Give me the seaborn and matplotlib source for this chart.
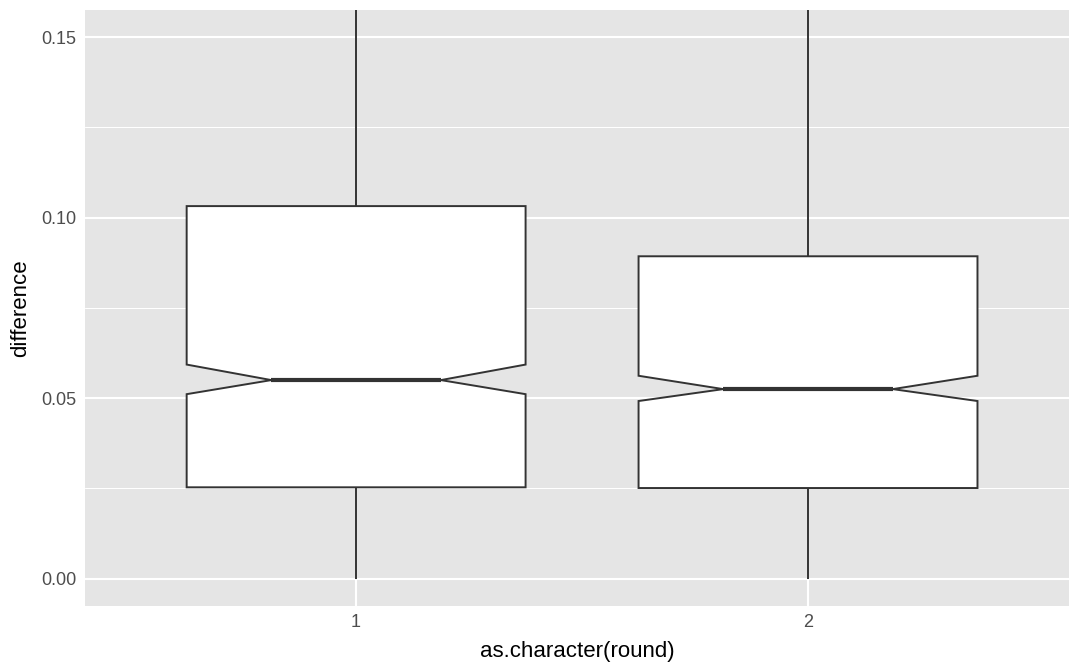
import matplotlib
matplotlib.use("Agg")
import matplotlib.pyplot as plt
from matplotlib.ticker import FixedLocator
import seaborn as sns
import pandas as pd

# Summary statistics of the difference per round
rounds = ["1", "2"]
medians = [0.0550, 0.0525]
q1 = [0.0253, 0.0251]
q3 = [0.1032, 0.0893]
notch_lo = [0.0511, 0.0492]
notch_hi = [0.0593, 0.0562]
whisker_lo = [0.0, 0.0]
whisker_hi = [0.20, 0.20]

y_ticks = [0.00, 0.05, 0.10, 0.15]
y_tick_labels = ["0.00", "0.05", "0.10", "0.15"]
y_minor = [0.025, 0.075, 0.125]

sns.set_theme(style="darkgrid", rc={
    "axes.facecolor": "#E5E5E5",
    "grid.color": "white",
    "axes.edgecolor": "none",
})
plt.rcParams["font.family"] = ["Liberation Sans", "DejaVu Sans"]

df = pd.DataFrame({"round": rounds, "difference": medians})
stats = [
    dict(med=m, q1=a, q3=b, whislo=wl, whishi=wh, cilo=cl, cihi=ch, fliers=[], mean=m)
    for m, a, b, wl, wh, cl, ch in zip(medians, q1, q3, whisker_lo, whisker_hi, notch_lo, notch_hi)
]

fig = plt.figure(figsize=(10.69, 6.64), dpi=100)
# panel runs slightly past the right edge of the canvas
ax = fig.add_axes([0.0795, 0.0878, 0.930, 0.897])

sns.boxplot(
    data=df, x="round", y="difference", ax=ax,
    notch=True, width=0.75, color="white", linecolor="#333333",
    linewidth=1.4, showcaps=False, bxpstats=stats,
    medianprops={"linewidth": 3.0},
)

ax.set_xlim(-0.6, 1.6)
ax.set_ylim(-0.0075, 0.1575)
ax.set_axisbelow(True)

ax.yaxis.set_major_locator(FixedLocator(y_ticks))
ax.set_yticklabels(y_tick_labels)
ax.yaxis.set_minor_locator(FixedLocator(y_minor))
ax.grid(which="major", color="white", linewidth=1.5)
ax.grid(which="minor", axis="y", color="white", linewidth=0.75)
ax.grid(which="major", axis="x", color="white", linewidth=1.5)

ax.tick_params(axis="both", which="major", length=3.2, width=1.4, color="#333333",
               labelsize=13, labelcolor="#4D4D4D", pad=3)
ax.tick_params(axis="both", which="minor", length=0)
for s in ax.spines.values():
    s.set_visible(False)

ax.set_xlabel("as.character(round)", fontsize=16, color="black", labelpad=5)
ax.xaxis.set_label_coords((577 - 85) / 994, -0.06)
ax.xaxis.label.set_va("top")
ax.set_ylabel("difference", fontsize=16, color="black", labelpad=7)

fig.savefig("out.png", dpi=100)
